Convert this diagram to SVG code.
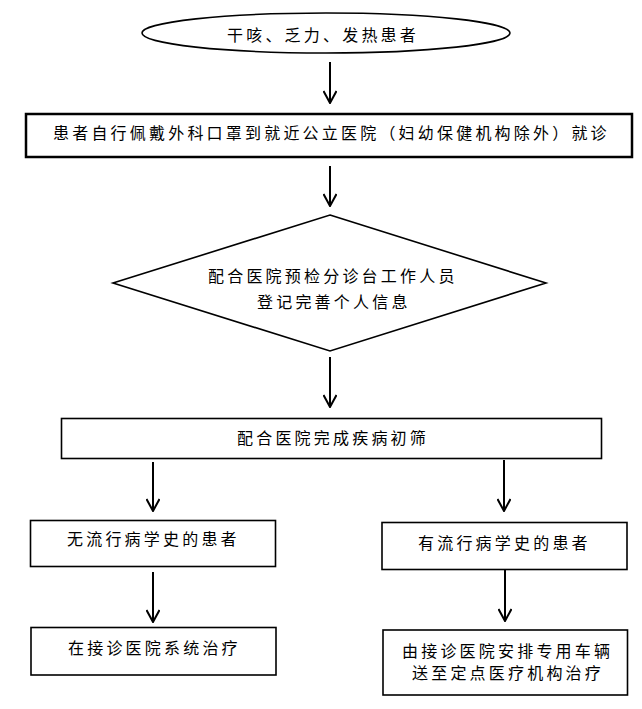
<svg xmlns="http://www.w3.org/2000/svg" width="642" height="709" viewBox="0 0 642 709">
<defs>
<style>
.t{font-family:"Noto Sans CJK SC","Noto Sans CJK JP",sans-serif;font-size:16px;letter-spacing:3.2px;fill:#000}
.b{fill:#fff;stroke:#000;stroke-width:1.6}
.c{fill:none;stroke:#000;stroke-width:2}
</style>
<marker id="ah" viewBox="0 0 14 14" refX="13" refY="7" markerWidth="14" markerHeight="14" markerUnits="userSpaceOnUse" orient="auto">
<path d="M1,0.5 L13,7 L1,13.5" fill="none" stroke="#000" stroke-width="2"/>
</marker>
</defs>
<rect width="642" height="709" fill="#fff"/>
<g id="connectors">
<path class="c" d="M330,62 V103" marker-end="url(#ah)"/>
<path class="c" d="M330,166 V206" marker-end="url(#ah)"/>
<path class="c" d="M330,357 V407" marker-end="url(#ah)"/>
<path class="c" d="M153,462 V511" marker-end="url(#ah)"/>
<path class="c" d="M504,460 V511" marker-end="url(#ah)"/>
<path class="c" d="M153,572 V622" marker-end="url(#ah)"/>
<path class="c" d="M505,570 V621" marker-end="url(#ah)"/>
</g>
<g id="n1">
<ellipse class="b" cx="326" cy="33" rx="184" ry="20"/>
<text class="t" x="227" y="41">干咳、乏力、发热患者</text>
</g>
<g id="n2">
<rect x="26" y="114" width="606" height="43" fill="#fff" stroke="#000" stroke-width="2.5"/>
<text class="t" x="53" y="138.5">患者自行佩戴外科口罩到就近公立医院（妇幼保健机构除外）就诊</text>
</g>
<g id="n3">
<polygon class="b" points="330,215 546,283 330,351 113,283"/>
<text class="t" x="208" y="282">配合医院预检分诊台工作人员</text>
<text class="t" x="257" y="307.5">登记完善个人信息</text>
</g>
<g id="n4">
<rect class="b" x="61.5" y="418.5" width="540" height="40"/>
<text class="t" x="237" y="444">配合医院完成疾病初筛</text>
</g>
<g id="n5">
<rect class="b" x="30.5" y="520.5" width="245" height="46"/>
<text class="t" x="67" y="545">无流行病学史的患者</text>
</g>
<g id="n6">
<rect class="b" x="382" y="522.5" width="245" height="47"/>
<text class="t" x="418" y="548.5">有流行病学史的患者</text>
</g>
<g id="n7">
<rect class="b" x="31" y="627.5" width="245" height="47.5"/>
<text class="t" x="68" y="653.5">在接诊医院系统治疗</text>
</g>
<g id="n8">
<rect class="b" x="383" y="630" width="244.5" height="65"/>
<text class="t" x="402" y="656.5">由接诊医院安排专用车辆</text>
<text class="t" x="412" y="679">送至定点医疗机构治疗</text>
</g>
</svg>
